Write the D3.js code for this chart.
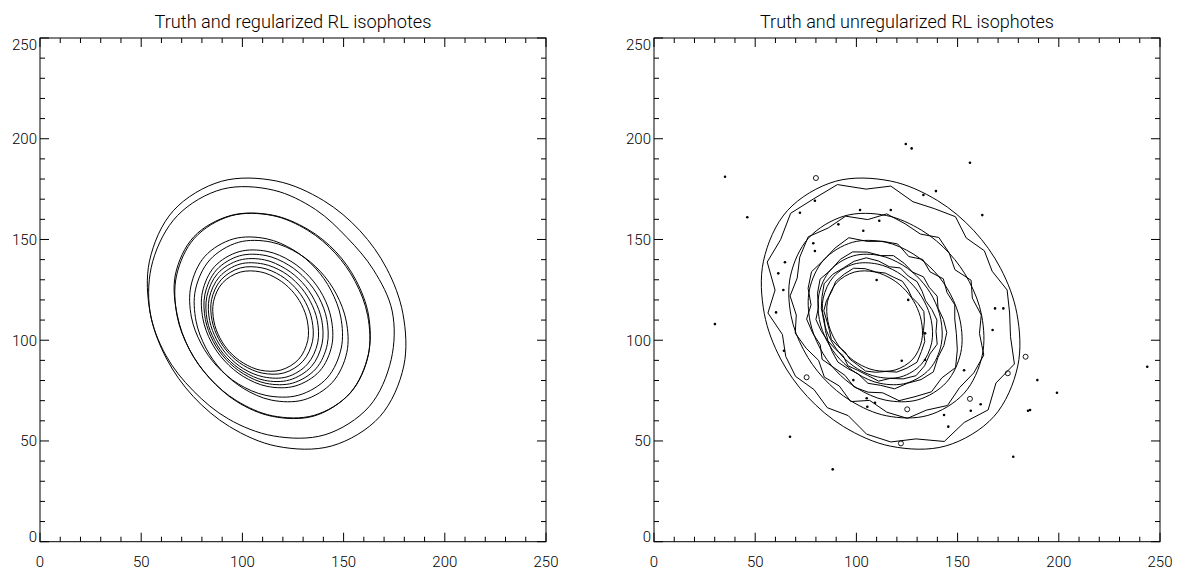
<!DOCTYPE html>
<html>
<head>
<meta charset="utf-8">
<script src="https://cdn.jsdelivr.net/npm/d3@7/dist/d3.min.js"></script>
<style>
  html, body { margin: 0; padding: 0; background: #fff; }
  svg text { font-family: Roboto, "DejaVu Sans", sans-serif; font-weight: 300; fill: #000; }
</style>
</head>
<body>
<svg id="chart" width="1190" height="576"></svg>
<script>
// ---------------- DATA ----------------
const titles = ["Truth and regularized RL isophotes", "Truth and unregularized RL isophotes"];
const xTickLabels = [0, 50, 100, 150, 200, 250];
const yTickLabels = [0, 50, 100, 150, 200, 250];
const minorStep = 10;
const axisDomain = [0, 250];

// Truth isophotes: centre [x, y] and radii at 16 equal angle steps from 0 deg (data units)
const truthCenters = [[116.9,113.2],[114.8,112.2],[114.2,109.5],[111.7,110.3],[110.4,109.8],[109,109.5]];
const truthRadii = [
  [62.4,58.8,58.2,60.7,65.8,71.1,72.2,68.0,62.4,58.8,58.2,60.7,65.8,71.1,72.2,68.0],
  [47.1,44.3,43.9,45.8,49.7,53.6,54.4,51.3,47.1,44.3,43.9,45.8,49.7,53.6,54.4,51.3],
  [37.1,34.9,34.6,36.1,39.2,42.3,42.9,40.5,37.1,34.9,34.6,36.1,39.2,42.3,42.9,40.5],
  [30.0,28.3,28.0,29.2,31.7,34.2,34.7,32.7,30.0,28.3,28.0,29.2,31.7,34.2,34.7,32.7],
  [26.6,25.0,24.8,25.9,28.0,30.3,30.7,29.0,26.6,25.0,24.8,25.9,28.0,30.3,30.7,29.0],
  [23.1,21.8,21.6,22.5,24.4,26.3,26.7,25.2,23.1,21.8,21.6,22.5,24.4,26.3,26.7,25.2]
];

// Regularized RL isophotes (left panel)
const regCenters = [[115.3,114.5],[114.8,112.5],[111.7,111.5],[112.2,110.6],[110.9,110],[109.7,109.8]];
const regRadii = [
  [58.7,53.5,51.5,54.5,60.0,65.5,67.0,64.5,61.0,57.5,56.0,58.0,62.0,66.5,67.0,63.0],
  [47.5,44.8,44.4,46.0,49.6,53.5,54.9,51.9,47.0,44.4,44.0,46.4,50.3,54.2,54.5,51.3],
  [36.9,34.7,34.4,35.9,38.9,42.0,42.7,40.2,36.9,34.7,34.4,35.9,38.9,42.0,42.7,40.2],
  [31.7,29.9,29.6,30.9,33.5,36.1,36.7,34.6,31.7,29.9,29.6,30.9,33.5,36.1,36.7,34.6],
  [28.3,26.6,26.4,27.5,29.9,32.2,32.7,30.8,28.3,26.6,26.4,27.5,29.9,32.2,32.7,30.8],
  [24.7,23.3,23.1,24.1,26.1,28.2,28.6,27.0,24.7,23.3,23.1,24.1,26.1,28.2,28.6,27.0]
];

// Unregularized RL isophotes (right panel): radii at 32 equal angle steps
const unregCenters = [[117,113.5],[115,112.5],[113,110.5],[112,110.3],[111,110],[109.5,109.5]];
const unregRadii = [
  [58.7,58.6,54.2,55.6,52.7,57.5,56.1,56.3,63.0,62.7,69.0,68.3,70.0,65.5,66.1,58.3,60.7,54.6,56.2,56.6,53.7,56.5,55.1,61.3,64.0,63.7,69.0,65.3,68.0,62.5,66.1,60.3],
  [46.7,43.1,45.1,40.5,43.6,46.3,43.5,46.2,50.2,48.3,53.1,52.0,54.9,51.7,47.9,48.7,44.7,46.1,43.1,40.5,43.6,42.3,46.5,43.2,48.2,52.3,51.1,54.0,50.9,51.7,51.9,46.7],
  [35.6,36.3,34.4,36.0,33.1,35.6,33.6,38.0,38.6,39.3,43.7,42.4,41.3,42.3,39.9,36.1,37.6,35.3,33.4,36.0,34.1,33.6,36.6,37.0,36.6,41.3,41.7,43.4,41.3,43.3,39.9,37.1],
  [31.0,28.9,30.2,28.8,29.9,28.3,30.2,32.3,31.7,34.1,36.3,35.9,34.8,36.0,33.8,31.3,32.0,29.9,28.2,28.8,29.9,29.3,29.2,32.3,32.7,35.1,34.3,35.9,36.8,34.0,33.8,33.3],
  [28.8,26.8,25.1,25.8,26.9,26.3,28.0,27.0,29.3,31.5,31.6,31.2,32.1,32.4,30.3,28.9,26.8,26.8,27.1,25.8,24.9,27.3,27.0,28.0,30.3,29.5,31.6,33.2,32.1,30.4,31.3,28.9],
  [24.1,24.3,22.7,21.4,22.5,23.8,23.5,24.3,24.4,26.5,28.4,28.0,27.9,26.2,26.3,26.1,24.1,23.3,23.7,22.4,21.5,22.8,23.5,25.3,25.4,25.5,27.4,28.0,28.9,27.2,26.3,24.1]
];

// Isolated noise pixels (dots) in the unregularized map
const noiseDotsX = [124.4,127.3,156.1,35.1,46.1,162.2,30.1,67.2,88.3,177.5,243.7,199.1,189.4,184.8,
  60.3,64.2,105.1,105.4,109.2,153.2,161.4,156.5,145.4,143.3,168.5,172.6,167.3,125.6,133.9,122.4,98.5,133.9,
  79.5,72.1,91.1,103.4,111.3,117.0,139.3,101.8,133.1,64.7,79.5,63.9,61.4,78.7,110.0,185.8];
const noiseDotsY = [197.4,195.2,188.1,181.1,161.0,162.1,108.0,52.1,35.9,42.2,86.8,73.9,80.2,65.0,
  113.8,94.8,71.2,67.0,69.0,85.1,68.2,65.0,57.1,62.9,115.8,115.8,105.1,120.0,103.4,89.8,80.2,90.2,
  169.2,163.3,157.5,154.3,159.3,164.6,174.0,164.6,172.1,138.7,144.3,124.9,133.2,148.1,129.9,65.4];
// Small closed islands
const islandX = [75.4,125.1,80.0,122.0,156.1,183.6,174.8];
const islandY = [81.6,65.7,180.5,48.8,70.9,91.8,83.6];

// ---------------- DRAWING ----------------
const svg = d3.select("#chart");
const panels = [{x0: 40, x1: 546}, {x0: 654, x1: 1160}];
const yTop = 38, yBot = 541.7;
const y = d3.scaleLinear().domain(axisDomain).range([yBot, yTop]);

function ring(center, radii) {
  const n = radii.length;
  return radii.map((r, i) => {
    const a = i * 2 * Math.PI / n;
    return [center[0] + r * Math.cos(a), center[1] + r * Math.sin(a)];
  });
}

panels.forEach((p, pi) => {
  const x = d3.scaleLinear().domain(axisDomain).range([p.x0, p.x1]);
  const g = svg.append("g");
  const smooth = d3.line().x(d => x(d[0])).y(d => y(d[1])).curve(d3.curveCatmullRomClosed);
  const jagged = d3.line().x(d => x(d[0])).y(d => y(d[1])).curve(d3.curveLinearClosed);

  const clipId = "clip" + pi;
  svg.append("clipPath").attr("id", clipId).append("rect")
    .attr("x", p.x0).attr("y", yTop).attr("width", p.x1 - p.x0).attr("height", yBot - yTop);
  const plot = g.append("g").attr("clip-path", `url(#${clipId})`);

  truthCenters.forEach((c, i) => {
    plot.append("path").attr("d", smooth(ring(c, truthRadii[i])))
      .attr("fill", "none").attr("stroke", "#000").attr("stroke-width", 1);
  });

  if (pi === 0) {
    regCenters.forEach((c, i) => {
      plot.append("path").attr("d", smooth(ring(c, regRadii[i])))
        .attr("fill", "none").attr("stroke", "#000").attr("stroke-width", 1);
    });
  } else {
    unregCenters.forEach((c, i) => {
      plot.append("path").attr("d", jagged(ring(c, unregRadii[i])))
        .attr("fill", "none").attr("stroke", "#000").attr("stroke-width", 1);
    });
    noiseDotsX.forEach((vx, i) => {
      plot.append("circle").attr("cx", x(vx)).attr("cy", y(noiseDotsY[i])).attr("r", 1.3).attr("fill", "#000");
    });
    islandX.forEach((vx, i) => {
      plot.append("circle").attr("cx", x(vx)).attr("cy", y(islandY[i])).attr("r", 2.5)
        .attr("fill", "none").attr("stroke", "#000").attr("stroke-width", 0.9);
    });
  }

  g.append("rect").attr("x", p.x0).attr("y", yTop).attr("width", p.x1 - p.x0).attr("height", yBot - yTop)
    .attr("fill", "none").attr("stroke", "#000").attr("stroke-width", 1);

  const minors = d3.range(axisDomain[0], axisDomain[1] + 0.1, minorStep);
  const tg = g.append("g").attr("stroke", "#000").attr("stroke-width", 1);
  minors.forEach(v => {
    const len = xTickLabels.includes(v) ? 9 : 5;
    tg.append("line").attr("x1", x(v)).attr("x2", x(v)).attr("y1", yBot).attr("y2", yBot - len);
    tg.append("line").attr("x1", x(v)).attr("x2", x(v)).attr("y1", yTop).attr("y2", yTop + len);
    const leny = yTickLabels.includes(v) ? 9 : 5;
    tg.append("line").attr("y1", y(v)).attr("y2", y(v)).attr("x1", p.x0).attr("x2", p.x0 + leny);
    tg.append("line").attr("y1", y(v)).attr("y2", y(v)).attr("x1", p.x1).attr("x2", p.x1 - leny);
  });

  xTickLabels.forEach(v => {
    g.append("text").attr("x", x(v)).attr("y", 567).attr("text-anchor", "middle")
      .attr("font-size", 15).text(v);
  });
  yTickLabels.forEach((v, i) => {
    let base = y(v) + 5.5;
    if (i === 0) base = y(v) + 0.5;
    if (i === yTickLabels.length - 1) base = y(v) + 11.5;
    g.append("text").attr("x", p.x0 - 3).attr("y", base).attr("text-anchor", "end")
      .attr("font-size", 15).text(v);
  });

  const tw = pi === 0 ? 277 : 294;
  g.append("text").attr("x", (p.x0 + p.x1) / 2).attr("y", 28).attr("text-anchor", "middle")
    .attr("font-size", 18).attr("textLength", tw).attr("lengthAdjust", "spacingAndGlyphs")
    .text(titles[pi]);
});
</script>
</body>
</html>
